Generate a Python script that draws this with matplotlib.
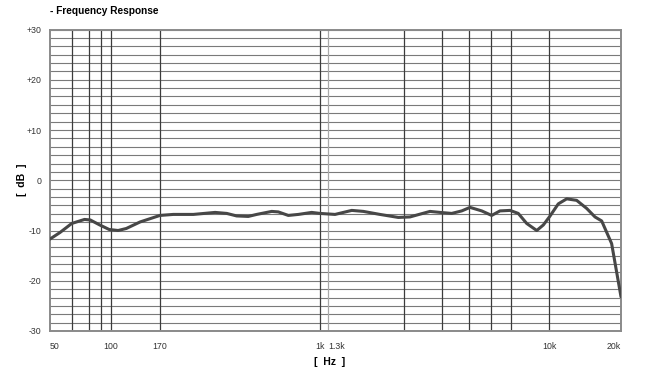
#! /usr/bin/env python3

'''
Frequency response plot of a microphone, on the odd, hand-drawn log grid
of the data sheet.
'''

import matplotlib
matplotlib.use('Agg')
import matplotlib.pyplot as plt
import matplotlib.axes as axes
import numpy as np


file_name_graph = 'out.png'
figure_width_height = (6.53, 3.79)
fig_title = '- Frequency Response'
xlabel = '[  Hz  ]'
ylabel = '[  dB  ]'
curve_colour = '#474747'

# curve
freq_hz = [
    50, 56, 64, 74, 79, 88, 98, 108, 118, 137, 170, 197, 246, 313, 356,
    397, 452, 496, 586, 630, 704, 787, 912, 1000, 1387, 1619, 1802, 2100,
    2488, 2771, 3333, 3657, 4073, 4468, 4824, 5373, 5890, 6360, 6980,
    7530, 8140, 8930, 9490, 10080, 11040, 12080, 13430, 14940, 16330,
    17540, 19500, 21600,
]
level_db = [
    -11.7, -10.4, -8.6, -7.8, -7.9, -8.9, -9.8, -10.0, -9.6, -8.3, -7.0,
    -6.8, -6.8, -6.4, -6.6, -7.1, -7.2, -6.8, -6.2, -6.3, -7.0, -6.8,
    -6.4, -6.6, -6.8, -6.0, -6.2, -6.8, -7.4, -7.3, -6.2, -6.4, -6.6,
    -6.1, -5.4, -6.1, -7.0, -6.1, -6.0, -6.6, -8.6, -10.0, -8.9, -7.2,
    -4.7, -3.7, -4.0, -5.6, -7.3, -8.1, -12.6, -23.2,
]

# grid and labels
x_ticks = [50, 100, 170, 1000, 1300, 10000, 20000]
x_tick_labels = ['50', '100', '170', '1k', '1.3k', '10k', '20k']
x_extra_lines = [64, 78, 89, 2630, 3730, 4790, 5870, 7060]
y_ticks = [30, 20, 10, 0, -10, -20, -30]
y_tick_labels = ['+30', '+20', '+10', '0', '-10', '-20', '-30']

# the sheet is not a true log axis: piecewise log, anchored on the labels
scale_freq = [5, 50, 100, 170, 1000, 1300, 10000, 20000, 21600, 200000]
scale_pos = [-152.6, 50, 111, 160, 320, 328, 549, 614, 621, 837]


def forward(f):
    lf = np.log10(np.clip(f, 1e-9, None))
    return np.interp(lf, np.log10(scale_freq), scale_pos)


def inverse(p):
    return 10 ** np.interp(p, scale_pos, np.log10(scale_freq))


def style_frame(ax: axes.Axes) -> None:
    for spine in ax.spines.values():
        spine.set_color('#8a8a8a')
        spine.set_linewidth(1.4)
    ax.tick_params(length=0, labelsize=6.3, labelcolor='#333333')
    ax.tick_params(axis='x', pad=8)
    ax.tick_params(axis='y', pad=6)
    # the sheet sets a couple of labels off to the right of their line
    for lab in ax.get_xticklabels():
        if lab.get_text() in ('50', '1.3k'):
            lab.set_ha('left')


def main():
    plt.rcParams['font.family'] = ['Liberation Sans', 'DejaVu Sans']
    fig = plt.figure(figsize=figure_width_height, dpi=100)
    ax = fig.add_axes([50 / 653, 1 - 331 / 379, 571 / 653, 301.5 / 379])
    ax.set_xscale('function', functions=(forward, inverse))
    ax.set_xlim(50, 21600)
    ax.set_ylim(-30, 30)

    for y in np.linspace(-30, 30, 37):
        ax.axhline(y, color='#7a7a7a', linewidth=0.8, zorder=1)
    for x in x_ticks[1:-1] + x_extra_lines:
        c = '#a8a8a8' if x == 1300 else '#3c3c3c'
        ax.axvline(x, color=c, linewidth=0.9, zorder=1)

    ax.plot(freq_hz, level_db, color=curve_colour, linewidth=2.2,
            solid_capstyle='round', zorder=3)

    ax.set_xticks(x_ticks)
    ax.set_xticklabels(x_tick_labels)
    ax.set_xticks([], minor=True)
    ax.set_yticks(y_ticks)
    ax.set_yticklabels(y_tick_labels)
    style_frame(ax)

    ax.set_xlabel(xlabel, fontweight='bold', fontsize=7.5)
    ax.xaxis.set_label_coords(0.489, -0.085)
    ax.set_ylabel(ylabel, fontweight='bold', fontsize=7.5)
    ax.yaxis.set_label_coords(-0.041, 0.5)
    fig.text(50 / 653, 1 - 11 / 379, fig_title, fontweight='bold',
             fontsize=7.3, va='center', ha='left')

    fig.savefig(file_name_graph, dpi=100)


if __name__ == '__main__':
    main()
